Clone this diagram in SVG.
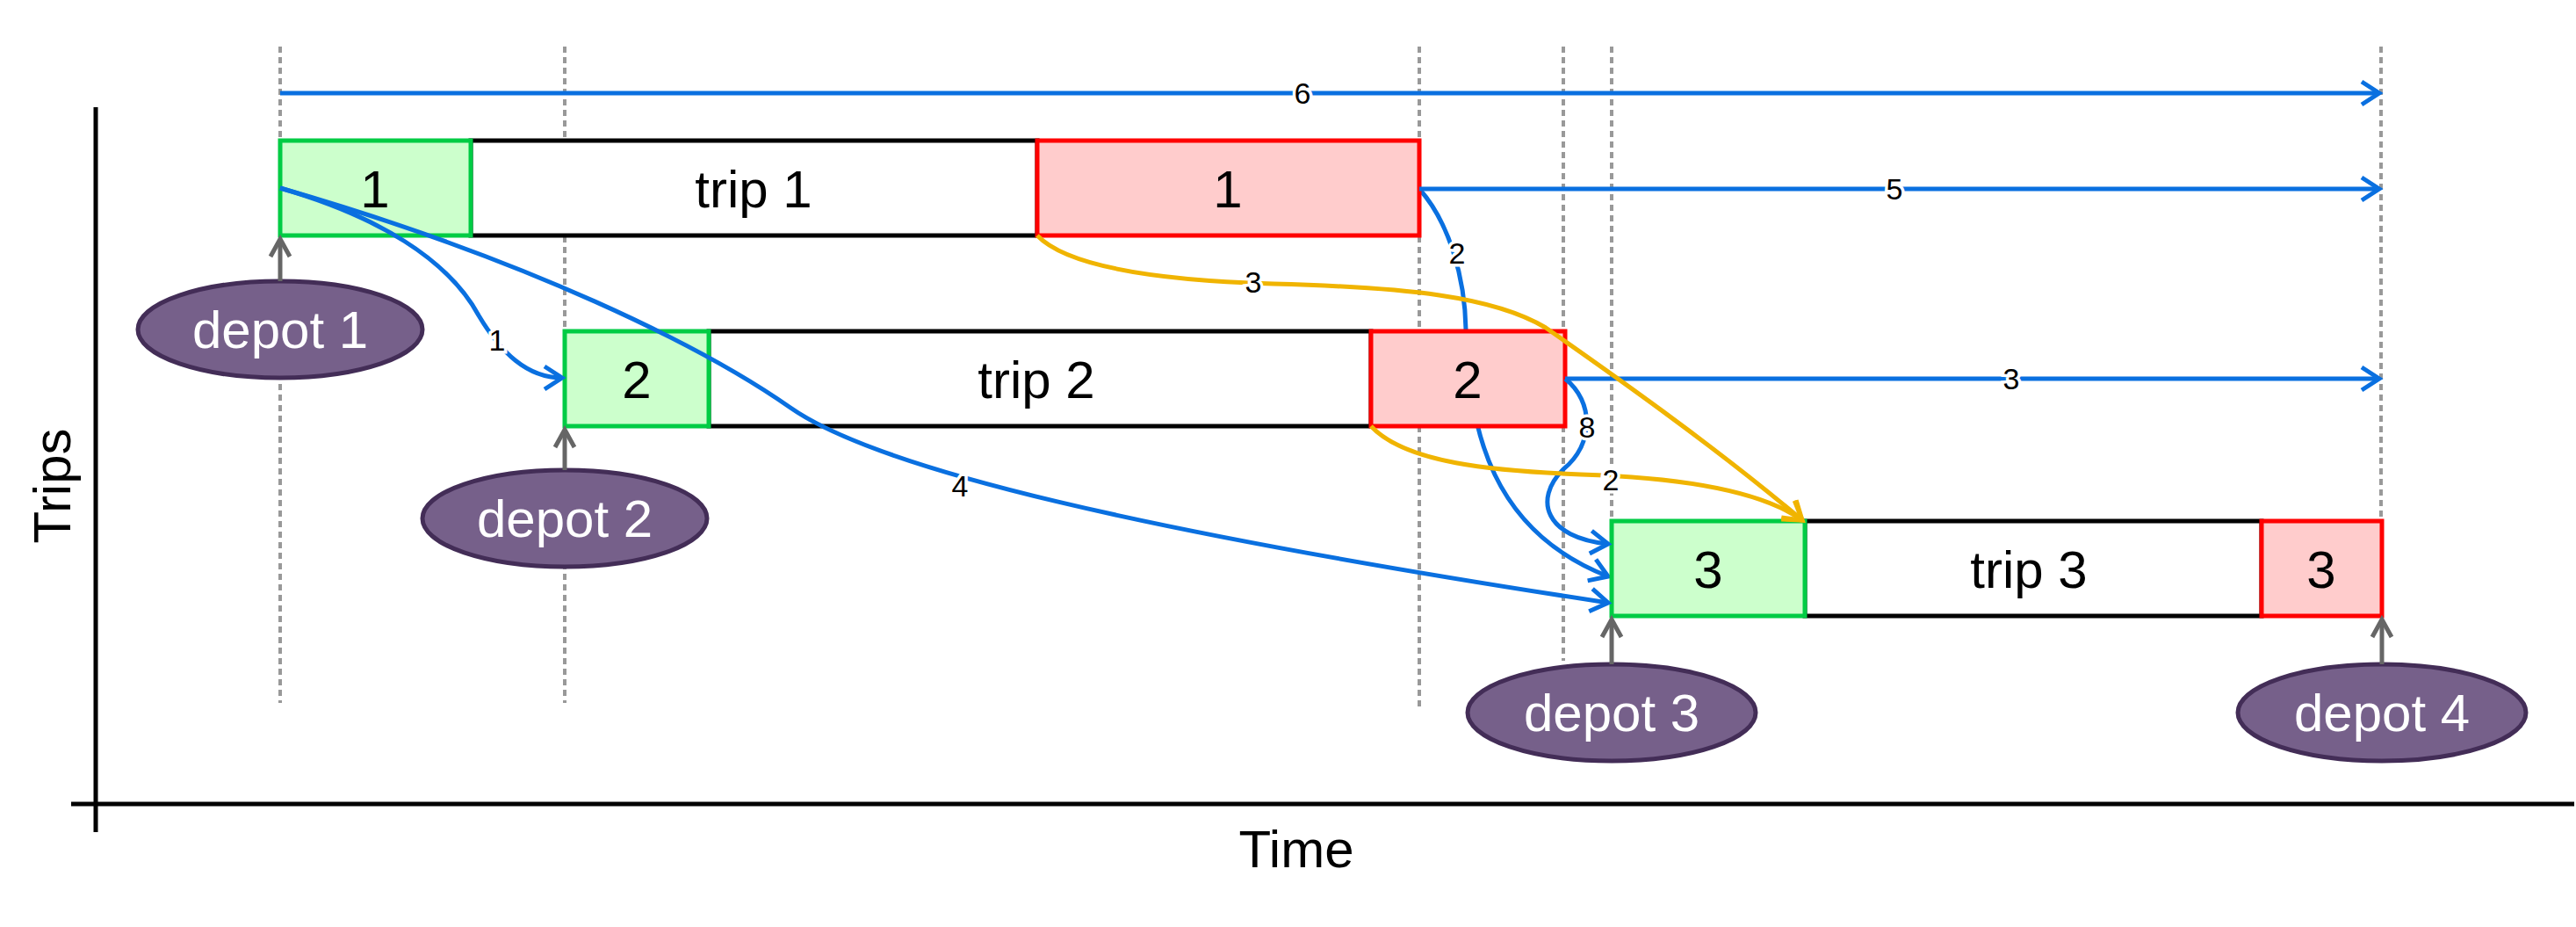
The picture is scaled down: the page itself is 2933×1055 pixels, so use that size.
<svg xmlns="http://www.w3.org/2000/svg" width="2933" height="1055" viewBox="0 0 2933 1055">
<style>
.t{font-family:"Liberation Sans",Arial,sans-serif}
.big{font-size:60px;text-anchor:middle}
.lbl{font-size:34px;text-anchor:middle;stroke:#fff;stroke-width:7px;paint-order:stroke;fill:#000}
.dot{stroke:#999;stroke-width:4;stroke-dasharray:7,5}
.g{fill:#ccffcc;stroke:#00cc44;stroke-width:5}
.r{fill:#ffcccc;stroke:#ff0000;stroke-width:5}
.w{fill:#fff;stroke:#000;stroke-width:5}
.b{fill:none;stroke:#0a70e0;stroke-width:5;marker-end:url(#ab)}
.y{fill:none;stroke:#f0b400;stroke-width:5;marker-end:url(#ay)}
.dep{fill:#76608a;stroke:#432d57;stroke-width:5}
.dt{fill:#fff}
.ga{stroke:#666;stroke-width:5;marker-end:url(#ag)}
</style>
<defs>
<marker id="ab" markerWidth="10" markerHeight="12" refX="0" refY="0" orient="auto" markerUnits="userSpaceOnUse" overflow="visible"><path d="M-20,-13 L0,0 L-20,13" fill="none" stroke="#0a70e0" stroke-width="5"/></marker>
<marker id="ay" markerWidth="10" markerHeight="12" refX="0" refY="0" orient="auto" markerUnits="userSpaceOnUse" overflow="visible"><path d="M-20,-13 L0,0 L-20,13" fill="none" stroke="#f0b400" stroke-width="5"/></marker>
<marker id="ag" markerWidth="10" markerHeight="12" refX="0" refY="0" orient="auto" markerUnits="userSpaceOnUse" overflow="visible"><path d="M-20,-11 L0,0 L-20,11" fill="none" stroke="#666" stroke-width="5"/></marker>
</defs>
<g id="grid">
<line class="dot" x1="319" y1="53" x2="319" y2="800"/>
<line class="dot" x1="643" y1="53" x2="643" y2="800"/>
<line class="dot" x1="1616" y1="53" x2="1616" y2="804"/>
<line class="dot" x1="1780" y1="53" x2="1780" y2="752"/>
<line class="dot" x1="1835" y1="53" x2="1835" y2="593"/>
<line class="dot" x1="2711" y1="53" x2="2711" y2="593"/>
</g>
<g id="axes">
<line x1="109" y1="122" x2="109" y2="947" stroke="#000" stroke-width="5"/>
<line x1="81" y1="915" x2="2931" y2="915" stroke="#000" stroke-width="5"/>
<text class="t big" x="1476" y="987">Time</text>
<text class="t big" transform="translate(80,553) rotate(-90)">Trips</text>
</g>
<g id="connectors-back">
<path class="b" d="M1616,215 C1650,253 1668,316 1669,375 C1672,492 1700,605 1831,656"/>
</g>
<g id="trip1">
<rect class="w" x="536" y="160" width="645" height="108"/>
<rect class="g" x="319" y="160" width="217" height="108"/>
<rect class="r" x="1181" y="160" width="435" height="108"/>
<text class="t big" x="427" y="236">1</text>
<text class="t big" x="858" y="236">trip 1</text>
<text class="t big" x="1398" y="236">1</text>
</g>
<g id="trip2">
<rect class="w" x="807" y="377" width="754" height="108"/>
<rect class="g" x="643" y="377" width="164" height="108"/>
<rect class="r" x="1561" y="377" width="221" height="108"/>
<text class="t big" x="725" y="453">2</text>
<text class="t big" x="1180" y="453">trip 2</text>
<text class="t big" x="1671" y="453">2</text>
</g>
<g id="trip3">
<rect class="w" x="2055" y="593" width="520" height="108"/>
<rect class="g" x="1835" y="593" width="220" height="108"/>
<rect class="r" x="2575" y="593" width="137" height="108"/>
<text class="t big" x="1945" y="669">3</text>
<text class="t big" x="2310" y="669">trip 3</text>
<text class="t big" x="2643" y="669">3</text>
</g>
<g id="depot1"><ellipse class="dep" cx="319" cy="375" rx="162" ry="55"/><text class="t big dt" x="319" y="396">depot 1</text><line class="ga" x1="319" y1="320" x2="319" y2="272"/></g>
<g id="depot2"><ellipse class="dep" cx="643" cy="590" rx="162" ry="55"/><text class="t big dt" x="643" y="611">depot 2</text><line class="ga" x1="643" y1="535" x2="643" y2="489"/></g>
<g id="depot3"><ellipse class="dep" cx="1835" cy="811" rx="164" ry="55"/><text class="t big dt" x="1835" y="832">depot 3</text><line class="ga" x1="1835" y1="756" x2="1835" y2="705"/></g>
<g id="depot4"><ellipse class="dep" cx="2712" cy="811" rx="164" ry="55"/><text class="t big dt" x="2712" y="832">depot 4</text><line class="ga" x1="2712" y1="756" x2="2712" y2="705"/></g>
<g id="connectors">
<path class="b" d="M319,106 L2709,106"/>
<path class="b" d="M1616,215 L2709,215"/>
<path class="b" d="M1782,431 L2709,431"/>
<path class="b" d="M319,214 C430,246 510,295 545,359 C570,401 600,430 640,430"/>
<path class="b" d="M319,214 C600,295 800,394 900,464 C1000,534 1300,605 1831,686"/>
<path class="b" d="M1782,431 C1815,457 1815,506 1780,534 C1745,569 1760,612 1831,619"/>
<path class="y" d="M1181,268 C1220,309 1350,320 1450,323 C1600,327 1700,337 1760,373 C1830,422 1950,506 2052,592"/>
<path class="y" d="M1561,485 C1600,527 1700,536 1800,540 C1900,543 2000,555 2052,592"/>
<text class="t lbl" x="1483" y="118">6</text>
<text class="t lbl" x="2157" y="227">5</text>
<text class="t lbl" x="2290" y="443">3</text>
<text class="t lbl" x="566" y="399">1</text>
<text class="t lbl" x="1093" y="565">4</text>
<text class="t lbl" x="1427" y="333">3</text>
<text class="t lbl" x="1659" y="300">2</text>
<text class="t lbl" x="1807" y="498">8</text>
<text class="t lbl" x="1834" y="558">2</text>
</g>
</svg>
